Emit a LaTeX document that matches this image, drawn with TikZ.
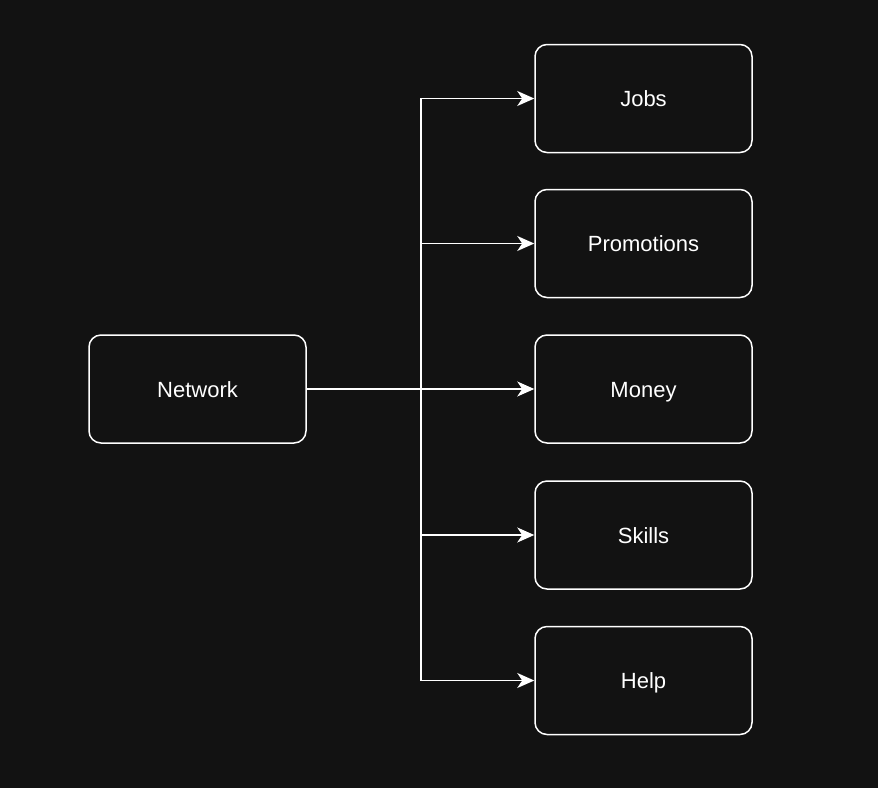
\documentclass[tikz,border=0pt]{standalone}
\usepackage{fontspec}
\setmainfont{Liberation Sans}
\usetikzlibrary{arrows.meta}
\definecolor{bg}{HTML}{121212}
\begin{document}
\begin{tikzpicture}[x=1pt,y=-1pt,
  box/.style={draw=white, line width=1.5pt, rounded corners=12pt, fill=bg,
    minimum width=217pt, minimum height=108pt, inner sep=0pt,
    text height=16pt, text depth=0pt,
    text=white, font=\fontsize{22}{26}\selectfont},
  conn/.style={draw=white, line width=1.5pt,
    -{Stealth[length=17pt,width=15pt,inset=5pt]}}]
\fill[bg] (0,0) rectangle (878,788);
\useasboundingbox (0,0) rectangle (878,788);
\node[box] (net) at (197.5,389) {Network};
\node[box] (jobs) at (643.5,98.5) {Jobs};
\node[box] (prom) at (643.5,243.5) {Promotions};
\node[box] (money) at (643.5,389) {Money};
\node[box] (skills) at (643.5,535) {Skills};
\node[box] (help) at (643.5,680.5) {Help};
\draw[conn] (net.east) -- ++(114,0) |- (jobs.west);
\draw[conn] (net.east) -- ++(114,0) |- (prom.west);
\draw[conn] (net.east) -- (money.west);
\draw[conn] (net.east) -- ++(114,0) |- (skills.west);
\draw[conn] (net.east) -- ++(114,0) |- (help.west);
\end{tikzpicture}
\end{document}
